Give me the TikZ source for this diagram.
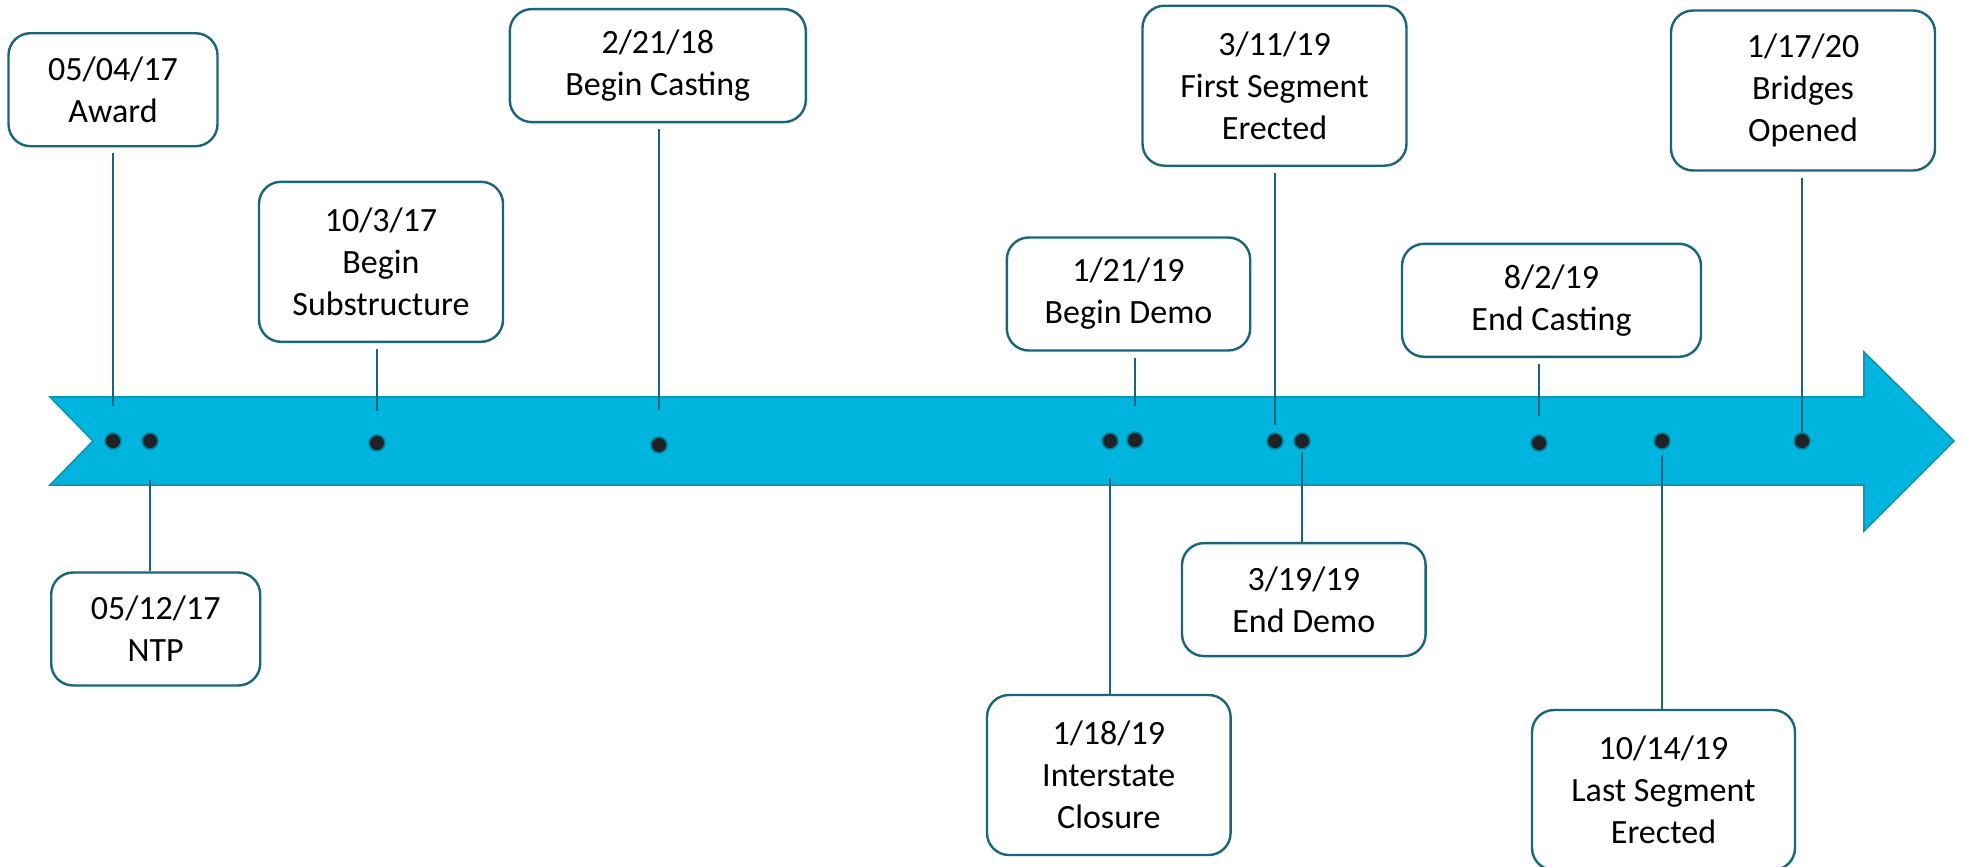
\documentclass[tikz,border=0pt]{standalone}
\usepackage{fontspec}
\setmainfont{Carlito}
\definecolor{bandblue}{RGB}{0,181,221}
\definecolor{bandedge}{RGB}{10,150,180}
\definecolor{boxedge}{RGB}{26,101,121}
\definecolor{dotgray}{RGB}{32,35,38}
\definecolor{dotedge}{RGB}{0,128,158}
\begin{document}
\begin{tikzpicture}
  [
    x=0.5pt, y=-0.5pt,
    font=\fontsize{17pt}{21pt}\selectfont,
    evt/.style 2 args={draw=boxedge, line width=1.2pt, fill=white,
      rounded corners=11pt, align=center, inner sep=0pt,
      minimum width=#1, minimum height=#2},
    stem/.style={draw=boxedge, line width=1pt},
    gap/.style={shorten <=3pt},
    dot/.style={fill=dotgray, draw=dotedge, line width=0.8pt}
  ]
  \useasboundingbox (0,0) rectangle (1965,867);
  \fill [bandblue, draw=bandedge, line width=0.8pt]
    (50,397) -- (1864,397) -- (1864,352) -- (1954,441) -- (1864,531)
    -- (1864,485) -- (50,485) -- (93,441) -- cycle;
  \coordinate (D1)  at (113, 441);
  \coordinate (D2)  at (150, 441);
  \coordinate (D3)  at (377, 443);
  \coordinate (D4)  at (659, 445);
  \coordinate (D5)  at (1110, 441);
  \coordinate (D6)  at (1135, 440);
  \coordinate (D7)  at (1275, 441);
  \coordinate (D8)  at (1302, 441);
  \coordinate (D9)  at (1539, 443);
  \coordinate (D10) at (1662, 441);
  \coordinate (D11) at (1802, 441);
  \coordinate (S1)  at (113, 406);
  \coordinate (S2)  at (150, 480);
  \coordinate (S3)  at (377, 411);
  \coordinate (S4)  at (659, 410);
  \coordinate (S5)  at (1110, 478);
  \coordinate (S6)  at (1135, 406);
  \coordinate (S7)  at (1275, 425);
  \coordinate (S8)  at (1302, 452);
  \coordinate (S9)  at (1539, 416);
  \coordinate (S10) at (1662, 455);
  \coordinate (S11) at (1802, 432);
  \node [evt={104.5pt}{56.5pt}] (award)    at (113, 89.7)    {05/04/17\\Award};
  \node [evt={104.5pt}{56.5pt}] (ntp)      at (155.7, 629)   {05/12/17\\NTP};
  \node [evt={122pt}{80pt}]     (subst)    at (381, 261.8)   {10/3/17\\Begin\\Substructure};
  \node [evt={148pt}{56.5pt}]   (bcast)    at (657.8, 65.6)  {2/21/18\\Begin Casting};
  \node [evt={121.8pt}{80pt}]   (closure)  at (1108.8, 775)  {1/18/19\\Interstate\\Closure};
  \node [evt={121.7pt}{56.5pt}] (bdemo)    at (1128.5, 294)  {1/21/19\\Begin Demo};
  \node [evt={132pt}{80pt}]     (firstseg) at (1274.5, 85.7) {3/11/19\\First Segment\\Erected};
  \node [evt={121.8pt}{56.5pt}] (edemo)    at (1303.8, 599.6){3/19/19\\End Demo};
  \node [evt={149.5pt}{56.5pt}] (ecast)    at (1551.5, 300.3){8/2/19\\End Casting};
  \node [evt={131.5pt}{80pt}]   (lastseg)  at (1663.5, 790)  {10/14/19\\Last Segment\\Erected};
  \node [evt={132pt}{80pt}]     (opened)   at (1803, 90.5)   {1/17/20\\Bridges\\Opened};
  \draw [stem, gap] (award.south -| S1) -- (S1);
  \draw [stem, gap] (subst.south -| S3) -- (S3);
  \draw [stem, gap] (bcast.south -| S4) -- (S4);
  \draw [stem, gap] (bdemo.south -| S6) -- (S6);
  \draw [stem, gap] (firstseg.south -| S7) -- (S7);
  \draw [stem, gap] (ecast.south -| S9) -- (S9);
  \draw [stem, gap] (opened.south -| S11) -- (S11);
  \draw [stem] (S2) -- (ntp.north -| S2);
  \draw [stem] (S5) -- (closure.north -| S5);
  \draw [stem] (S8) -- (edemo.north -| S8);
  \draw [stem] (S10) -- (lastseg.north -| S10);
  \foreach \point in {D1, D2, D3, D4, D5, D6, D7, D8, D9, D10, D11}
    \filldraw [dot] (\point) circle (8);
\end{tikzpicture}
\end{document}
